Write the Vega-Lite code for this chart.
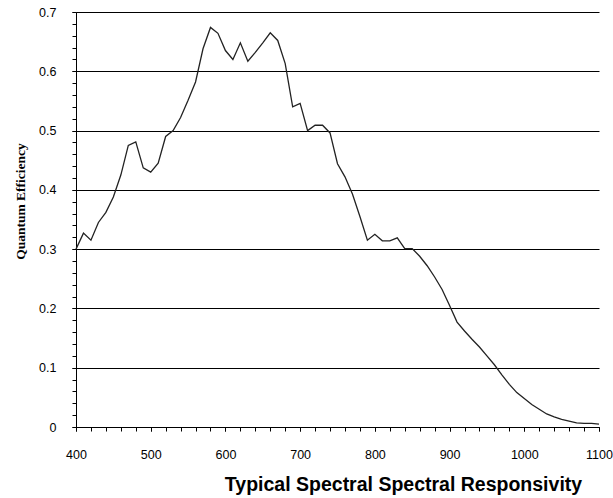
{
  "$schema": "https://vega.github.io/schema/vega-lite/v6.json",
  "width": 523,
  "height": 415,
  "autosize": "none",
  "padding": {"left": 76, "top": 12, "right": 14, "bottom": 71},
  "background": "white",
  "config": {
    "view": {"stroke": null},
    "axis": {
      "labelFont": "Liberation Sans",
      "labelFontSize": 12.5,
      "labelColor": "black",
      "labelFlush": false,
      "labelOverlap": false,
      "domainColor": "black",
      "tickColor": "black",
      "gridColor": "black",
      "gridOpacity": 1,
      "gridWidth": 1
    }
  },
  "data": {
    "values": [
      {"wavelength": 400, "qe": 0.300},
      {"wavelength": 410, "qe": 0.327},
      {"wavelength": 420, "qe": 0.315},
      {"wavelength": 430, "qe": 0.345},
      {"wavelength": 440, "qe": 0.362},
      {"wavelength": 450, "qe": 0.388},
      {"wavelength": 460, "qe": 0.425},
      {"wavelength": 470, "qe": 0.475},
      {"wavelength": 480, "qe": 0.481},
      {"wavelength": 490, "qe": 0.437},
      {"wavelength": 500, "qe": 0.430},
      {"wavelength": 510, "qe": 0.445},
      {"wavelength": 520, "qe": 0.490},
      {"wavelength": 530, "qe": 0.500},
      {"wavelength": 540, "qe": 0.522},
      {"wavelength": 550, "qe": 0.551},
      {"wavelength": 560, "qe": 0.582},
      {"wavelength": 570, "qe": 0.638},
      {"wavelength": 580, "qe": 0.674},
      {"wavelength": 590, "qe": 0.664},
      {"wavelength": 600, "qe": 0.635},
      {"wavelength": 610, "qe": 0.620},
      {"wavelength": 620, "qe": 0.648},
      {"wavelength": 630, "qe": 0.617},
      {"wavelength": 640, "qe": 0.632},
      {"wavelength": 650, "qe": 0.648},
      {"wavelength": 660, "qe": 0.665},
      {"wavelength": 670, "qe": 0.652},
      {"wavelength": 680, "qe": 0.613},
      {"wavelength": 690, "qe": 0.540},
      {"wavelength": 700, "qe": 0.546},
      {"wavelength": 710, "qe": 0.500},
      {"wavelength": 720, "qe": 0.509},
      {"wavelength": 730, "qe": 0.509},
      {"wavelength": 740, "qe": 0.496},
      {"wavelength": 750, "qe": 0.444},
      {"wavelength": 760, "qe": 0.422},
      {"wavelength": 770, "qe": 0.393},
      {"wavelength": 780, "qe": 0.355},
      {"wavelength": 790, "qe": 0.315},
      {"wavelength": 800, "qe": 0.325},
      {"wavelength": 810, "qe": 0.314},
      {"wavelength": 820, "qe": 0.314},
      {"wavelength": 830, "qe": 0.319},
      {"wavelength": 840, "qe": 0.301},
      {"wavelength": 850, "qe": 0.301},
      {"wavelength": 860, "qe": 0.288},
      {"wavelength": 870, "qe": 0.272},
      {"wavelength": 880, "qe": 0.253},
      {"wavelength": 890, "qe": 0.232},
      {"wavelength": 900, "qe": 0.205},
      {"wavelength": 910, "qe": 0.177},
      {"wavelength": 920, "qe": 0.162},
      {"wavelength": 930, "qe": 0.148},
      {"wavelength": 940, "qe": 0.135},
      {"wavelength": 950, "qe": 0.120},
      {"wavelength": 960, "qe": 0.105},
      {"wavelength": 970, "qe": 0.088},
      {"wavelength": 980, "qe": 0.072},
      {"wavelength": 990, "qe": 0.058},
      {"wavelength": 1000, "qe": 0.048},
      {"wavelength": 1010, "qe": 0.038},
      {"wavelength": 1020, "qe": 0.030},
      {"wavelength": 1030, "qe": 0.022},
      {"wavelength": 1040, "qe": 0.017},
      {"wavelength": 1050, "qe": 0.013},
      {"wavelength": 1060, "qe": 0.010},
      {"wavelength": 1070, "qe": 0.007},
      {"wavelength": 1080, "qe": 0.006},
      {"wavelength": 1090, "qe": 0.006},
      {"wavelength": 1100, "qe": 0.005}
    ]
  },
  "resolve": {"axis": {"x": "independent", "y": "independent"}},
  "layer": [
    {
      "mark": {"type": "line", "color": "#222222", "strokeWidth": 1.3},
      "encoding": {
        "x": {
          "field": "wavelength",
          "type": "quantitative",
          "scale": {"domain": [400, 1100], "nice": false, "zero": false},
          "axis": {
            "orient": "bottom",
            "values": [400, 420, 440, 460, 480, 500, 520, 540, 560, 580, 600, 620, 640, 660, 680, 700, 720, 740, 760, 780, 800, 820, 840, 860, 880, 900, 920, 940, 960, 980, 1000, 1020, 1040, 1060, 1080, 1100],
            "labels": false,
            "domain": false,
            "grid": false,
            "ticks": true,
            "tickSize": 4,
            "title": null
          }
        },
        "y": {
          "field": "qe",
          "type": "quantitative",
          "scale": {"domain": [0, 0.7], "nice": false},
          "axis": {
            "orient": "left",
            "values": [0, 0.02, 0.04, 0.06, 0.08, 0.1, 0.12, 0.14, 0.16, 0.18, 0.2, 0.22, 0.24, 0.26, 0.28, 0.3, 0.32, 0.34, 0.36, 0.38, 0.4, 0.42, 0.44, 0.46, 0.48, 0.5, 0.52, 0.54, 0.56, 0.58, 0.6, 0.62, 0.64, 0.66, 0.68, 0.7],
            "labels": false,
            "domain": false,
            "grid": false,
            "ticks": true,
            "tickSize": 4,
            "title": null
          }
        }
      }
    },
    {
      "mark": {"type": "line", "opacity": 0},
      "encoding": {
        "x": {
          "field": "wavelength",
          "type": "quantitative",
          "axis": {
            "orient": "bottom",
            "values": [400, 500, 600, 700, 800, 900, 1000, 1100],
            "format": "d",
            "tickSize": 4,
            "labelPadding": 17,
            "labelBaseline": "top",
            "grid": false,
            "title": "Typical Spectral Spectral Responsivity",
            "titleFont": "Liberation Sans",
            "titleFontSize": 19.5,
            "titleFontWeight": "bold",
            "titleColor": "black",
            "titleX": 327,
            "titleY": 63,
            "titleAlign": "center",
            "titleBaseline": "alphabetic"
          }
        },
        "y": {
          "field": "qe",
          "type": "quantitative",
          "axis": {
            "orient": "left",
            "values": [0, 0.1, 0.2, 0.3, 0.4, 0.5, 0.6, 0.7],
            "format": "~g",
            "tickSize": 4,
            "labelPadding": 16,
            "grid": true,
            "title": "Quantum Efficiency",
            "titleFont": "Liberation Serif",
            "titleFontSize": 13.5,
            "titleFontWeight": "bold",
            "titleColor": "black",
            "titleAngle": 270,
            "titleX": -56,
            "titleY": 189,
            "titleAlign": "center",
            "titleBaseline": "middle"
          }
        }
      }
    }
  ]
}
